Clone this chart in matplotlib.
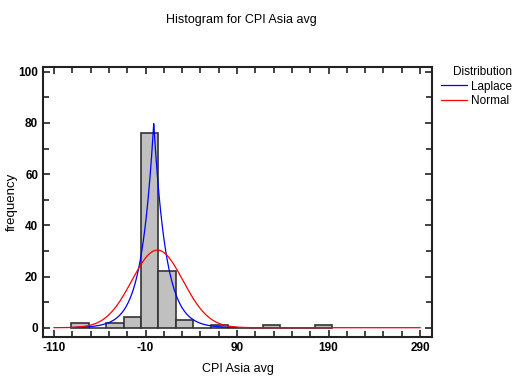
import numpy as np
import matplotlib
matplotlib.use("Agg")
import matplotlib.pyplot as plt
from matplotlib.ticker import MultipleLocator, FixedLocator

plt.rcParams['font.family'] = ['Liberation Sans Narrow', 'Liberation Sans', 'DejaVu Sans']
plt.rcParams['axes.unicode_minus'] = False

# Histogram data (class edges and frequencies)
bin_edges = [-91, -72, -53, -34, -15, 4, 23, 42, 61, 80, 99, 118, 137, 156, 175, 194]
counts = [2, 0, 2, 4, 76, 22, 3, 0, 1, 0, 0, 1, 0, 0, 1]

# Fitted distribution parameters
n_obs = 112
bin_width = 19
laplace_mu, laplace_b = -1.0, 13.3
normal_mu, normal_sigma = 3.0, 28.0

fig = plt.figure(figsize=(5.18, 3.82), dpi=100)
ax = fig.add_axes([0.083, 0.118, 0.751, 0.707])

lefts = bin_edges[:-1]
widths = np.diff(bin_edges)
ax.bar(lefts, counts, width=widths, align='edge', color='#c0c0c0',
       edgecolor='#333333', linewidth=1.2, zorder=2)

xl = np.linspace(-90, 90, 600)
lap = n_obs * bin_width * np.exp(-np.abs(xl - laplace_mu) / laplace_b) / (2 * laplace_b)
xn = np.linspace(-110, 290, 800)
nor = n_obs * bin_width * np.exp(-0.5 * ((xn - normal_mu) / normal_sigma) ** 2) / (normal_sigma * np.sqrt(2 * np.pi))

ax.plot(xl, lap, color='#0000ff', linewidth=0.9, label='Laplace', zorder=3)
ax.plot(xn, nor, color='#ff0000', linewidth=0.9, label='Normal', zorder=3)

ax.set_xlim(-122, 303)
ax.set_ylim(-3.6, 101.9)
ax.set_xticks([-110, -10, 90, 190, 290])
ax.xaxis.set_minor_locator(FixedLocator(np.arange(-110, 291, 20)))
ax.set_yticks([0, 20, 40, 60, 80, 100])
ax.yaxis.set_minor_locator(MultipleLocator(10))
ax.tick_params(which='both', direction='in', top=True, right=True, width=1.2,
               color='#222222', labelsize=8.5)
ax.tick_params(which='major', length=5)
ax.tick_params(which='minor', length=4)
for lab in ax.get_xticklabels() + ax.get_yticklabels():
    lab.set_fontweight('bold')
for s in ax.spines.values():
    s.set_linewidth(1.5)
    s.set_color('#222222')

ax.set_xlabel('CPI Asia avg', fontsize=9)
ax.xaxis.set_label_coords(0.5, -0.096)
ax.set_ylabel('frequency', fontsize=9.5)
ax.yaxis.set_label_coords(-0.064, 0.5)
fig.text(241 / 518, 1 - 20 / 382, 'Histogram for CPI Asia avg',
         ha='center', va='center', fontsize=9)

leg = ax.legend(loc='upper left', bbox_to_anchor=(1.01, 1.02), frameon=False,
                title='Distribution', fontsize=8.5, title_fontsize=8.5,
                handlelength=2.2, borderaxespad=0, handletextpad=0.4,
                labelspacing=0.2)
leg._legend_box.align = 'right'

fig.savefig('out.png', dpi=100)
